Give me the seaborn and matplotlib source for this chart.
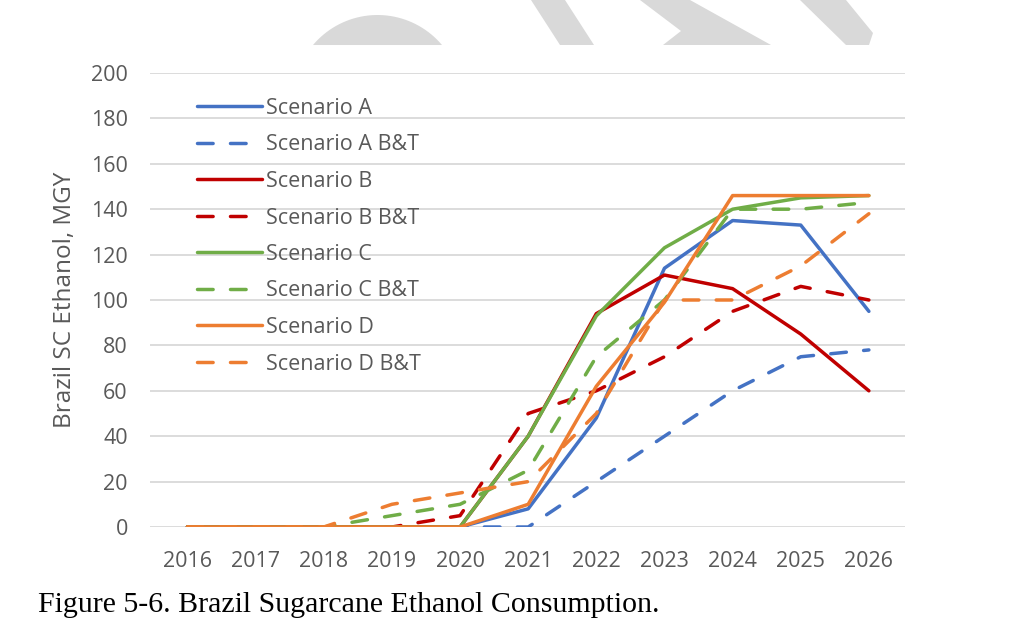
import numpy as np
import pandas as pd
import matplotlib
matplotlib.use("Agg")
import matplotlib.pyplot as plt
from matplotlib.patches import Polygon
import seaborn as sns

years = [2016, 2017, 2018, 2019, 2020, 2021, 2022, 2023, 2024, 2025, 2026]

scenario_a = [0, 0, 0, 0, 0, 8, 48, 114, 135, 133, 95]
scenario_a_bt = [0, 0, 0, 0, 0, 0, 20, 40, 60, 75, 78]
scenario_b = [0, 0, 0, 0, 0, 40, 94, 111, 105, 85, 60]
scenario_b_bt = [0, 0, 0, 0, 5, 50, 60, 75, 95, 106, 100]
scenario_c = [0, 0, 0, 0, 0, 40, 93, 123, 140, 145, 146]
scenario_c_bt = [0, 0, 0, 5, 10, 25, 75, 100, 140, 140, 143]
scenario_d = [0, 0, 0, 0, 0, 10, 62, 99, 146, 146, 146]
scenario_d_bt = [0, 0, 0, 10, 15, 20, 50, 100, 100, 115, 138]

series_names = ["Scenario A", "Scenario A B&T", "Scenario B", "Scenario B B&T",
                "Scenario C", "Scenario C B&T", "Scenario D", "Scenario D B&T"]
series_values = [scenario_a, scenario_a_bt, scenario_b, scenario_b_bt,
                 scenario_c, scenario_c_bt, scenario_d, scenario_d_bt]
colors = ["#4472C4", "#4472C4", "#C00000", "#C00000",
          "#70AD47", "#70AD47", "#ED7D31", "#ED7D31"]
dashed = [False, True, False, True, False, True, False, True]

y_label = "Brazil SC Ethanol, MGY"
caption = "Figure 5-6. Brazil Sugarcane Ethanol Consumption."

sns.set_theme(style="white")
plt.rcParams['font.family'] = ['Open Sans', 'DejaVu Sans']

W, H = 1022, 639
fig = plt.figure(figsize=(W / 100, H / 100), dpi=100)
ax = fig.add_axes([150 / W, 1 - 527 / H, 755 / W, 454 / H])

tick_color = "#595959"
for name, vals, col, dsh in zip(series_names, series_values, colors, dashed):
    df = pd.DataFrame({"year": years, "value": vals})
    sns.lineplot(data=df, x="year", y="value", ax=ax, color=col, label=name,
                 linewidth=2.5,
                 linestyle=(0, (4.5, 5.0)) if dsh else "-")
for ln in ax.get_lines():
    ln.set_dash_capstyle("round")
    ln.set_solid_capstyle("round")

ax.set_xlim(2015.45, 2026.53)
ax.set_ylim(0, 200)
ax.set_yticks(range(0, 201, 20))
ax.set_xticks(years)
ax.set_xticklabels([str(y) for y in years])
ax.grid(axis="y", color="#D9D9D9", linewidth=1.3)
ax.grid(axis="x", visible=False)
ax.set_axisbelow(True)
for s in ax.spines.values():
    s.set_visible(False)
ax.tick_params(axis="both", colors=tick_color, labelsize=15.5, length=0)
ax.tick_params(axis="y", pad=16)
ax.tick_params(axis="x", pad=17)
ax.set_xlabel("")
ax.set_ylabel(y_label, color=tick_color, fontsize=17.5, labelpad=10)

handles, labels = ax.get_legend_handles_labels()
leg = ax.legend(handles, labels, loc="upper left",
                bbox_to_anchor=((197 - 150) / 755, (527 - 98) / 454),
                frameon=False, borderpad=0, borderaxespad=0,
                handlelength=3.0, handletextpad=0.2, labelspacing=0.72,
                fontsize=15.5)
for t in leg.get_texts():
    t.set_color(tick_color)

fig.text(38 / W, 1 - 605 / H, caption, family="Liberation Serif", fontsize=21.5,
         color="black", va="center", ha="left")

# light gray watermark fragments at top of page
wm = "#D9D9D9"
def px(pts):
    return [(x / W, 1 - y / H) for x, y in pts]
r = 84.3
cx, cy = 377.5, 99.3
half = np.arcsin(64.5 / r)
angs = np.linspace(-half, half, 40)
arch = [(cx + r * np.sin(a), cy - r * np.cos(a)) for a in angs]
shapes = [
    arch,
    [(531, 0), (565, 0), (594, 45), (560, 45)],
    [(640, 0), (690, 0), (771, 45), (663, 45), (681, 31)],
    [(800, 0), (846, 0), (873, 33), (869, 45), (846, 45)],
]
for sh in shapes:
    fig.patches.append(Polygon(px(sh), closed=True, facecolor=wm, edgecolor="none",
                               transform=fig.transFigure, figure=fig))

fig.savefig("out.png", dpi=100, facecolor="white")
